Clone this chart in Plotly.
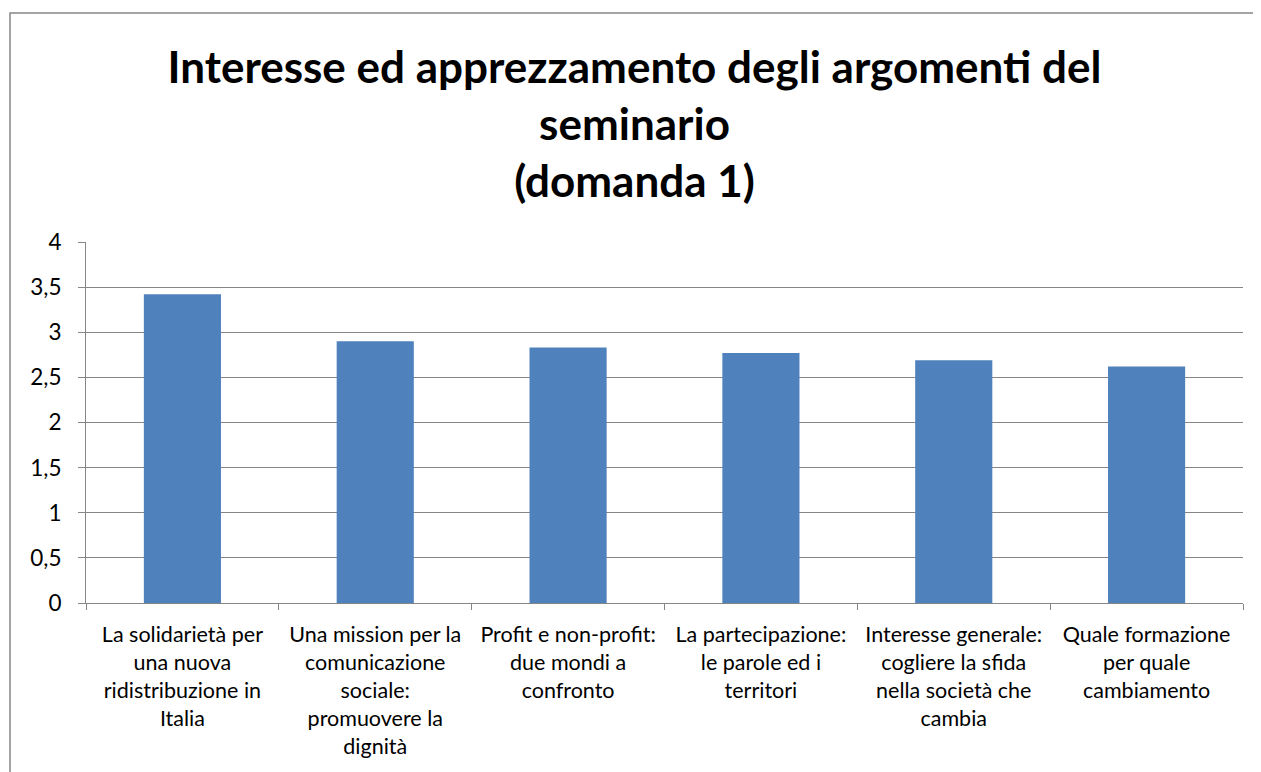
import plotly.graph_objects as go

categories = [
    "La solidarietà per<br>una nuova<br>ridistribuzione in<br>Italia",
    "Una mission per la<br>comunicazione<br>sociale:<br>promuovere la<br>dignità",
    "Profit e non-profit:<br>due mondi a<br>confronto",
    "La partecipazione:<br>le parole ed i<br>territori",
    "Interesse generale:<br>cogliere la sfida<br>nella società che<br>cambia",
    "Quale formazione<br>per quale<br>cambiamento",
]
values = [3.42, 2.90, 2.83, 2.77, 2.69, 2.62]
title_text = "Interesse ed apprezzamento degli argomenti del<br>seminario<br>(domanda 1)"

# page body has an 8px margin, so the figure is sized to land where the reference is
W, H = 1253, 764
ml, mr, mt, mb = 78, 18, 234, 169

fig = go.Figure(go.Bar(x=categories, y=values, marker=dict(color="#4F81BD", line=dict(width=0))))

fig.update_layout(
    width=W, height=H,
    margin=dict(l=ml, r=mr, t=mt, b=mb, autoexpand=False),
    paper_bgcolor="white", plot_bgcolor="white",
    bargap=0.6,
    separators=",.",
    showlegend=False,
    font=dict(family="Lato", size=21, color="black"),
    title=dict(text=title_text, x=0.5, xanchor="center", y=1 - 75 / H, yanchor="top",
               font=dict(family="Lato", size=44, color="black", weight="bold")),
)
fig.update_xaxes(type="category", showline=True, linecolor="#868686", linewidth=1,
                 ticks="outside", tickson="boundaries", ticklen=6, tickcolor="#868686",
                 showgrid=False, tickangle=0, tickfont=dict(size=21.5), ticklabelstandoff=12)
fig.update_yaxes(range=[0, 4], dtick=0.5, tick0=0, showline=True, linecolor="#868686", linewidth=1,
                 ticks="outside", ticklen=7, tickcolor="#868686",
                 showgrid=True, gridcolor="#868686", gridwidth=1, zeroline=False,
                 tickfont=dict(size=22.5), ticklabelstandoff=12)

# chart area border
pw, ph = W - ml - mr, H - mt - mb
fig.add_shape(type="rect", xref="paper", yref="paper",
              x0=(2 - ml) / pw, x1=(W + 20 - ml) / pw,
              y0=-(mb + 20) / ph, y1=1 + (mt - 5) / ph,
              line=dict(color="#868686", width=1.5), fillcolor="rgba(0,0,0,0)", layer="below")

fig.write_html("out.html")
